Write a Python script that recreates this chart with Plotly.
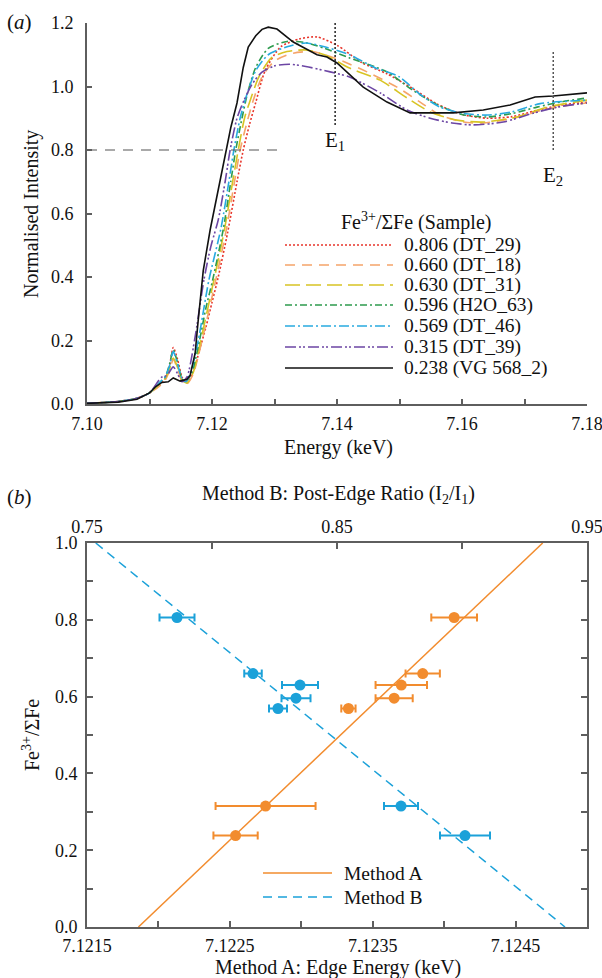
import plotly.graph_objects as go

# ---------------- DATA ----------------
# Panel (a): XANES spectra, energy (keV) and normalised intensity
E_806 = [7.100, 7.105, 7.108, 7.110, 7.1115, 7.1125, 7.1132, 7.1138, 7.1145, 7.1152, 7.1160, 7.1170, 7.1180, 7.1190, 7.1200, 7.1210, 7.1225, 7.1240, 7.1250, 7.1260, 7.1270, 7.1285, 7.1310, 7.1340, 7.1368, 7.1400, 7.1440, 7.1480, 7.1520, 7.1560, 7.1600, 7.1640, 7.1680, 7.1720, 7.1760, 7.1800]
I_806 = [0.002, 0.008, 0.018, 0.035, 0.060, 0.080, 0.120, 0.178, 0.140, 0.085, 0.066, 0.100, 0.170, 0.240, 0.320, 0.400, 0.540, 0.700, 0.800, 0.880, 0.950, 1.050, 1.125, 1.150, 1.156, 1.130, 1.075, 1.040, 0.995, 0.945, 0.912, 0.900, 0.905, 0.925, 0.942, 0.950]

E_660 = [7.100, 7.105, 7.108, 7.110, 7.1115, 7.1125, 7.1132, 7.1138, 7.1145, 7.1152, 7.1160, 7.1170, 7.1184, 7.1206, 7.1223, 7.1236, 7.1245, 7.1255, 7.1265, 7.1280, 7.1300, 7.1330, 7.1360, 7.1380, 7.1405, 7.1448, 7.1496, 7.1533, 7.1565, 7.1602, 7.1634, 7.1682, 7.1730, 7.1773, 7.1800]
I_660 = [0.002, 0.008, 0.018, 0.035, 0.055, 0.075, 0.105, 0.140, 0.110, 0.072, 0.064, 0.095, 0.200, 0.390, 0.550, 0.700, 0.800, 0.880, 0.950, 1.030, 1.080, 1.105, 1.110, 1.100, 1.083, 1.046, 0.998, 0.951, 0.910, 0.888, 0.885, 0.900, 0.926, 0.942, 0.948]

E_630 = [7.100, 7.105, 7.108, 7.110, 7.1115, 7.1125, 7.1132, 7.1138, 7.1145, 7.1152, 7.1160, 7.1170, 7.1182, 7.1203, 7.1220, 7.1233, 7.1242, 7.1252, 7.1260, 7.1275, 7.1295, 7.1320, 7.1350, 7.1380, 7.1420, 7.1469, 7.1512, 7.1549, 7.1592, 7.1634, 7.1688, 7.1736, 7.1800]
I_630 = [0.002, 0.008, 0.018, 0.035, 0.060, 0.080, 0.110, 0.145, 0.115, 0.075, 0.066, 0.100, 0.200, 0.390, 0.550, 0.700, 0.800, 0.900, 0.950, 1.030, 1.090, 1.110, 1.115, 1.100, 1.058, 1.020, 0.964, 0.920, 0.894, 0.888, 0.904, 0.935, 0.957]

E_596 = [7.100, 7.105, 7.108, 7.110, 7.1115, 7.1125, 7.1132, 7.1138, 7.1145, 7.1152, 7.1158, 7.1168, 7.1180, 7.1190, 7.1201, 7.1218, 7.1230, 7.1238, 7.1248, 7.1257, 7.1270, 7.1290, 7.1320, 7.1350, 7.1380, 7.1420, 7.1480, 7.1520, 7.1560, 7.1600, 7.1640, 7.1680, 7.1720, 7.1760, 7.1800]
I_596 = [0.002, 0.008, 0.018, 0.035, 0.065, 0.085, 0.125, 0.170, 0.130, 0.080, 0.070, 0.100, 0.200, 0.300, 0.390, 0.550, 0.700, 0.800, 0.900, 0.980, 1.060, 1.120, 1.142, 1.138, 1.120, 1.090, 1.046, 0.990, 0.943, 0.912, 0.904, 0.915, 0.935, 0.952, 0.964]

E_569 = [7.100, 7.105, 7.108, 7.110, 7.1115, 7.1125, 7.1132, 7.1138, 7.1145, 7.1152, 7.1158, 7.1166, 7.1178, 7.1195, 7.1214, 7.1227, 7.1235, 7.1245, 7.1255, 7.1270, 7.1290, 7.1320, 7.1350, 7.1380, 7.1420, 7.1460, 7.1500, 7.1533, 7.1565, 7.1600, 7.1640, 7.1680, 7.1725, 7.1800]
I_569 = [0.002, 0.008, 0.018, 0.035, 0.065, 0.085, 0.120, 0.165, 0.125, 0.080, 0.070, 0.100, 0.200, 0.390, 0.550, 0.700, 0.800, 0.900, 0.970, 1.050, 1.100, 1.125, 1.137, 1.125, 1.100, 1.060, 1.030, 0.975, 0.935, 0.916, 0.910, 0.920, 0.946, 0.957]

E_315 = [7.100, 7.105, 7.108, 7.110, 7.1115, 7.1120, 7.1128, 7.1138, 7.1145, 7.1152, 7.1160, 7.1172, 7.1187, 7.1198, 7.1210, 7.1221, 7.1229, 7.1240, 7.1252, 7.1265, 7.1280, 7.1300, 7.1325, 7.1350, 7.1389, 7.1420, 7.1469, 7.1512, 7.1549, 7.1584, 7.1618, 7.1666, 7.1714, 7.1752, 7.1800]
I_315 = [0.002, 0.008, 0.018, 0.035, 0.075, 0.085, 0.090, 0.117, 0.095, 0.070, 0.085, 0.200, 0.390, 0.495, 0.580, 0.700, 0.800, 0.900, 0.960, 1.010, 1.045, 1.065, 1.070, 1.063, 1.046, 1.030, 0.980, 0.926, 0.900, 0.885, 0.879, 0.888, 0.916, 0.935, 0.948]

E_238 = [7.100, 7.105, 7.108, 7.110, 7.111, 7.112, 7.113, 7.1138, 7.1149, 7.1160, 7.1165, 7.1173, 7.1178, 7.1186, 7.1197, 7.1213, 7.1222, 7.1230, 7.1240, 7.1250, 7.1258, 7.1270, 7.1280, 7.1290, 7.1304, 7.1330, 7.1368, 7.1384, 7.1400, 7.1442, 7.1480, 7.1517, 7.1586, 7.1634, 7.1677, 7.1717, 7.1746, 7.1800]
I_238 = [0.002, 0.006, 0.015, 0.035, 0.055, 0.068, 0.070, 0.082, 0.072, 0.078, 0.090, 0.160, 0.265, 0.420, 0.548, 0.705, 0.800, 0.870, 0.948, 1.060, 1.124, 1.160, 1.180, 1.187, 1.181, 1.140, 1.100, 1.093, 1.074, 0.998, 0.951, 0.917, 0.917, 0.926, 0.942, 0.967, 0.970, 0.980]

spectra_labels = ["0.806 (DT_29)", "0.660 (DT_18)", "0.630 (DT_31)", "0.596 (H2O_63)",
                  "0.569 (DT_46)", "0.315 (DT_39)", "0.238 (VG 568_2)"]

threshold_level = [0.8]
threshold_span = [7.100, 7.1314]
E_marks = [7.1397, 7.1746]
E_mark_bottom = [0.879, 0.800]
E_mark_top = [1.200, 1.115]

# Panel (b): calibration data
fe_ratio = [0.806, 0.660, 0.630, 0.596, 0.569, 0.315, 0.238]
edge_energy = [7.12407, 7.12385, 7.12370, 7.12365, 7.12333, 7.12275, 7.12254]
edge_err = [0.00016, 0.00012, 0.00018, 0.00013, 0.00005, 0.00035, 0.000155]
post_edge_ratio = [0.7860, 0.8164, 0.8352, 0.8336, 0.8264, 0.8756, 0.9012]
post_edge_err = [0.0070, 0.0035, 0.0072, 0.0058, 0.0036, 0.0068, 0.0100]
fitA_E = [7.12186, 7.12469]
fitA_F = [0.0, 1.0]
fitB_R = [0.7535, 0.9412]
fitB_F = [1.0, 0.0]

# tick labels
a_x_ticks = [7.10, 7.11, 7.12, 7.13, 7.14, 7.15, 7.16, 7.17, 7.18]
a_x_labels = ["7.10", "", "7.12", "", "7.14", "", "7.16", "", "7.18"]
a_y_ticks = [0.0, 0.2, 0.4, 0.6, 0.8, 1.0, 1.2]
a_y_labels = ["0.0", "0.2", "0.4", "0.6", "0.8", "1.0", "1.2"]
b_x_ticks = [7.1215, 7.1220, 7.1225, 7.1230, 7.1235, 7.1240, 7.1245, 7.1250]
b_x_labels = ["7.1215", "", "7.1225", "", "7.1235", "", "7.1245", ""]
b_top_ticks = [0.75, 0.80, 0.85, 0.90, 0.95]
b_top_labels = ["0.75", "", "0.85", "", "0.95"]
b_y_ticks = [0.0, 0.1, 0.2, 0.3, 0.4, 0.5, 0.6, 0.7, 0.8, 0.9, 1.0]
b_y_labels = ["0.0", "", "0.2", "", "0.4", "", "0.6", "", "0.8", "", "1.0"]

# ---------------- STYLE ----------------
W, H = 602, 978
FONT = "Liberation Serif, Times New Roman, DejaVu Serif, serif"
AX = "#5e5e5e"
ORANGE = "#F28C2E"
BLUE = "#1BA1D9"
TICK_SIZE = 18
TITLE_SIZE = 20

def px(x):
    return x / W

def py(y):
    return 1 - y / H

spec_E = [E_806, E_660, E_630, E_596, E_569, E_315, E_238]
spec_I = [I_806, I_660, I_630, I_596, I_569, I_315, I_238]
spec_col = ["#E8352B", "#F5A46A", "#D8C424", "#2E9B4E", "#28AAE0", "#6C46A4", "#111111"]
spec_dash = ["2px,2px", "10px,7px", "15px,6px", "7px,3px,2px,3px", "10px,3px,2px,3px",
             "11px,3px,2px,2px,2px,3px", "solid"]

fig = go.Figure()

for i in range(7):
    shape = "linear" if i == 6 else "spline"
    fig.add_trace(go.Scatter(
        x=spec_E[i], y=spec_I[i], mode="lines", xaxis="x", yaxis="y",
        line=dict(color=spec_col[i], width=1.6, dash=spec_dash[i], shape=shape,
                  smoothing=0.7 if shape == "spline" else None),
        showlegend=False, hoverinfo="skip"))

# threshold and E1/E2 markers
fig.add_trace(go.Scatter(x=threshold_span, y=threshold_level * 2, mode="lines",
                         xaxis="x", yaxis="y", line=dict(color="#555555", width=1.1, dash="10px,8px"),
                         showlegend=False, hoverinfo="skip"))
for k in range(2):
    fig.add_trace(go.Scatter(x=[E_marks[k], E_marks[k]], y=[E_mark_bottom[k], E_mark_top[k]],
                             mode="lines", xaxis="x", yaxis="y",
                             line=dict(color="#222222" if k == 0 else "#555555", width=1.5, dash="2px,2px"),
                             showlegend=False, hoverinfo="skip"))

# panel (b) fits
fig.add_trace(go.Scatter(x=fitA_E, y=fitA_F, mode="lines", xaxis="x2", yaxis="y2",
                         line=dict(color=ORANGE, width=1.5), showlegend=False, hoverinfo="skip"))
fig.add_trace(go.Scatter(x=fitB_R, y=fitB_F, mode="lines", xaxis="x3", yaxis="y2",
                         line=dict(color=BLUE, width=1.5, dash="9px,6px"), showlegend=False, hoverinfo="skip"))
# panel (b) points
fig.add_trace(go.Scatter(x=edge_energy, y=fe_ratio, mode="markers", xaxis="x2", yaxis="y2",
                         marker=dict(color=ORANGE, size=11),
                         error_x=dict(type="data", array=edge_err, color=ORANGE, thickness=2, width=4),
                         showlegend=False))
fig.add_trace(go.Scatter(x=post_edge_ratio, y=fe_ratio, mode="markers", xaxis="x3", yaxis="y2",
                         marker=dict(color=BLUE, size=11),
                         error_x=dict(type="data", array=post_edge_err, color=BLUE, thickness=2, width=4),
                         showlegend=False))

tickfont = dict(family=FONT, size=TICK_SIZE, color="#111111")
axbase = dict(showline=True, linecolor=AX, linewidth=1.6, ticks="inside", tickcolor=AX,
              tickwidth=1.5, showgrid=False, zeroline=False, tickfont=tickfont, tickmode="array",
              automargin=False, ticklabeloverflow="allow")

dom_x = [87 / W, 587 / W]
fig.update_layout(
    width=W, height=H, margin=dict(l=0, r=0, t=0, b=0, autoexpand=False),
    paper_bgcolor="white", plot_bgcolor="white", showlegend=False,
    font=dict(family=FONT, color="#111111"),
    xaxis=dict(axbase, domain=dom_x, anchor="y", range=[7.10, 7.18], ticklen=5,
               tickvals=a_x_ticks, ticktext=a_x_labels, ticklabelstandoff=3),
    yaxis=dict(axbase, domain=[1 - 404 / H, 1 - 23 / H], anchor="x", range=[0, 1.2], ticklen=5,
               tickvals=a_y_ticks, ticktext=a_y_labels, ticklabelstandoff=8),
    xaxis2=dict(axbase, domain=dom_x, anchor="y2", range=[7.1215, 7.1250], ticklen=6,
                tickvals=b_x_ticks, ticktext=b_x_labels, ticklabelstandoff=2),
    xaxis3=dict(axbase, overlaying="x2", side="top", anchor="y2", range=[0.75, 0.95], ticklen=6,
                tickvals=b_top_ticks, ticktext=b_top_labels, ticklabelstandoff=1),
    yaxis2=dict(axbase, domain=[1 - 927 / H, 1 - 543 / H], anchor="x2", range=[0, 1], ticklen=6,
                mirror="ticks", tickvals=b_y_ticks, ticktext=b_y_labels, ticklabelstandoff=4),
)

ann = []
def text(x, y, s, size=TITLE_SIZE, xanchor="center", angle=0):
    ann.append(dict(x=px(x), y=py(y), xref="paper", yref="paper", text=s, showarrow=False,
                    xanchor=xanchor, yanchor="middle", textangle=angle,
                    font=dict(family=FONT, size=size, color="#111111")))

text(19, 22, "(<i>a</i>)", 21)
text(19, 497, "(<i>b</i>)", 21)
text(31, 214, "Normalised Intensity", TITLE_SIZE, angle=-90)
text(338, 447, "Energy (keV)", TITLE_SIZE)
text(335, 141, "E<sub>1</sub>", 21)
text(553, 176, "E<sub>2</sub>", 21)
text(338, 495, "Method B: Post-Edge Ratio (I<sub>2</sub>/I<sub>1</sub>)", TITLE_SIZE)
text(338, 967, "Method A: Edge Energy (keV)", TITLE_SIZE)
text(31, 735, "Fe<sup>3+</sup>/ΣFe", TITLE_SIZE, angle=-90)

# legend panel (a)
text(416, 221, "Fe<sup>3+</sup>/ΣFe (Sample)", TITLE_SIZE)
rows = [245, 265, 285, 305, 326, 347, 368]
shapes = []
for i in range(7):
    shapes.append(dict(type="line", xref="paper", yref="paper", x0=px(285), x1=px(393),
                       y0=py(rows[i]), y1=py(rows[i]),
                       line=dict(color=spec_col[i], width=1.6, dash=spec_dash[i])))
    text(402, rows[i], spectra_labels[i], 19.5, xanchor="left")

# legend panel (b)
shapes.append(dict(type="line", xref="paper", yref="paper", x0=px(263), x1=px(332),
                   y0=py(873), y1=py(873), line=dict(color=ORANGE, width=1.5)))
shapes.append(dict(type="line", xref="paper", yref="paper", x0=px(263), x1=px(332),
                   y0=py(897), y1=py(897), line=dict(color=BLUE, width=1.5, dash="9px,6px")))
text(342, 873, "Method A", 19.5, xanchor="left")
text(342, 897, "Method B", 19.5, xanchor="left")

fig.update_layout(annotations=ann, shapes=shapes)
fig.write_html("out.html", config={"displayModeBar": False},
               post_script="document.body.style.margin='0';document.body.style.overflow='hidden';")
